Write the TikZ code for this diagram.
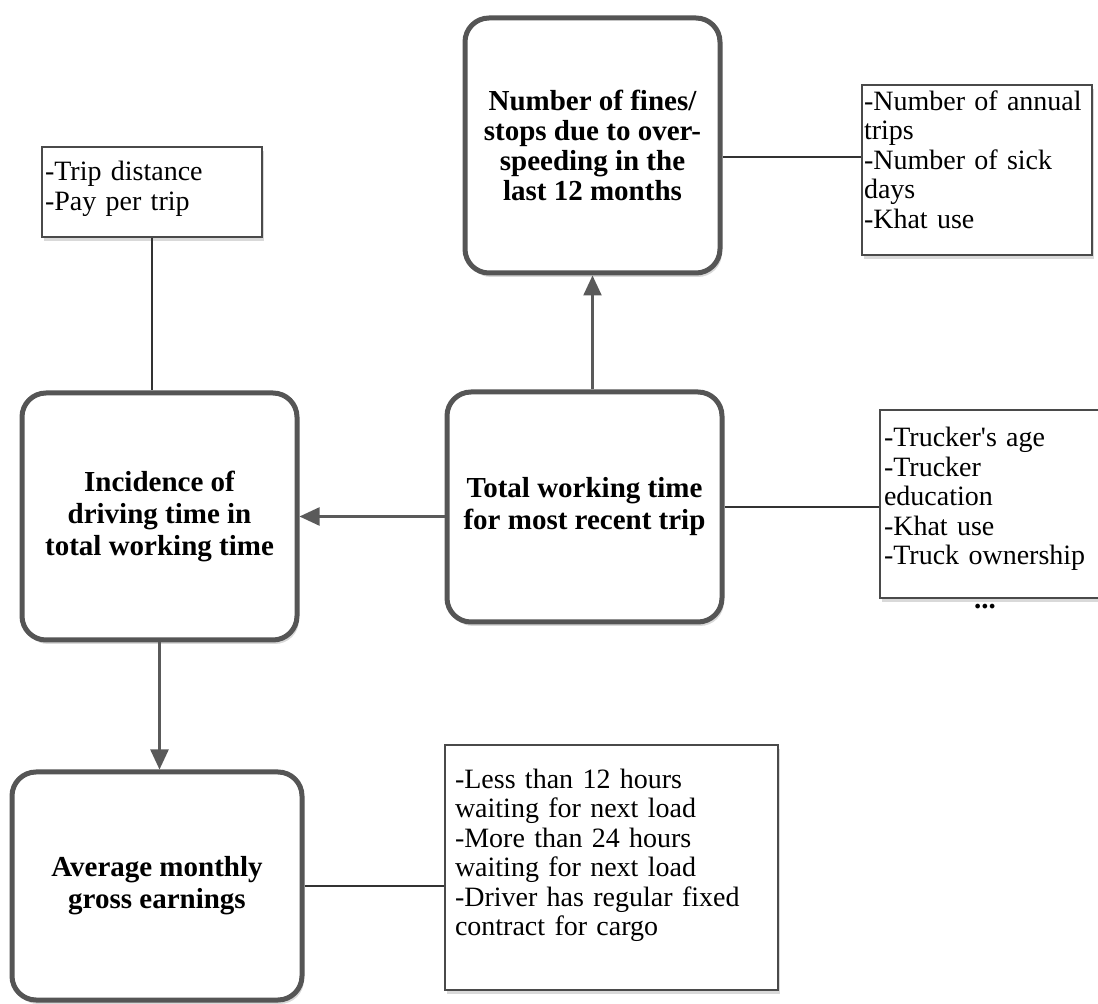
\documentclass[tikz,border=0pt]{standalone}
\usepackage{fontspec}
\setmainfont{Liberation Serif}
\usetikzlibrary{arrows.meta,shadows}

\definecolor{boxgray}{HTML}{555555}
\definecolor{listgray}{HTML}{4A4A4A}
\definecolor{linkgray}{HTML}{333333}
\definecolor{arrowgray}{HTML}{5A5A5A}

\tikzset{
  mainbox/.style={draw=boxgray, line width=2.5pt, rounded corners=12pt,
    fill=white, align=center, inner sep=0pt,
    font=\bfseries\fontsize{14.5}{16}\selectfont,
    drop shadow={shadow xshift=1pt, shadow yshift=-2pt, opacity=0.3}},
  listbox/.style={draw=listgray, line width=0.8pt, fill=white, align=left,
    inner ysep=0pt, font=\fontsize{14}{14.75}\selectfont,
    drop shadow={shadow xshift=1pt, shadow yshift=-2pt, opacity=0.3}},
  link/.style={draw=linkgray, line width=1pt},
  effect/.style={draw=arrowgray, line width=1.2pt,
    -{Triangle[length=10pt,width=9pt]}},
}

\begin{document}
\begin{tikzpicture}[x=0.5pt, y=-0.5pt]
  \useasboundingbox (0,0) rectangle (1098,1004);

  % main outcomes
  \node[mainbox, minimum width=127.5pt, minimum height=127.5pt,
    font=\bfseries\fontsize{14.5}{15}\selectfont] (fines) at (592.5,145.5)
    {Number of fines/\\stops due to over-\\speeding in the\\last 12 months};
  \node[mainbox, minimum width=137.5pt, minimum height=115pt] (total) at (584.5,507)
    {Total working time\\for most recent trip};
  \node[mainbox, minimum width=137.5pt, minimum height=123.5pt] (incid) at (159.5,516.5)
    {Incidence of\\driving time in\\total working time};
  \node[mainbox, minimum width=145pt, minimum height=114pt] (avg) at (157,886)
    {Average monthly\\gross earnings};

  % control lists (the \kern lifts the text a little)
  \node[listbox, text width=113pt, inner xsep=1pt, minimum height=85pt] (listA) at (977,170)
    {-Number of annual\\trips\\-Number of sick\\days\\-Khat use\par\kern10.5pt};
  \node[listbox, text width=112pt, inner xsep=2pt, minimum height=94pt] (listD) at (996,504)
    {-Trucker\textquotesingle s age\\-Trucker\\education\\-Khat use\\-Truck ownership\par\kern5pt};
  \node[font=\bfseries\fontsize{14.5}{14.75}\selectfont] (dots) at (985,607) {...};
  \node[listbox, text width=107pt, inner xsep=1.5pt, minimum height=45pt] (listF) at (152,192)
    {-Trip distance\\-Pay per trip\par\kern3pt};
  \node[listbox, text width=156.5pt, inner xsep=5pt, minimum height=122.5pt] (listH) at (611.5,867.5)
    {-Less than 12 hours\\waiting for next load\\-More than 24 hours\\waiting for next load\\-Driver has regular fixed\\contract for cargo\par\kern12pt};

  % effects
  \draw[effect] (fines.south |- total.north) -- (fines.south);
  \draw[effect] (incid.east -| total.west) -- (incid.east);
  \draw[effect] (incid.south) -- (incid.south |- avg.north);

  % links to controls
  \draw[link] ([yshift=-6pt]fines.east) -- ([yshift=-6pt]fines.east -| listA.west);
  \draw[link] (total.east) -- (total.east -| listD.west);
  \draw[link] (listF.south) -- (listF.south |- incid.north);
  \draw[link] (avg.east) -- (avg.east -| listH.west);
\end{tikzpicture}
\end{document}
